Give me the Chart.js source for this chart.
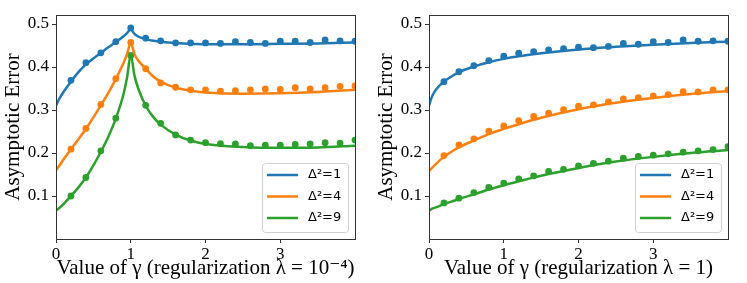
<!DOCTYPE html>
<html>
<head>
<meta charset="utf-8">
<script src="https://cdn.jsdelivr.net/npm/chart.js@4.4.1/dist/chart.umd.min.js"></script>
<style>
  body { margin: 0; background: #fff; }
  canvas { position: absolute; top: 0; }
  #leftChart { left: 0; }
  #rightChart { left: 373px; }
</style>
</head>
<body>
<canvas id="leftChart" width="373" height="283"></canvas>
<canvas id="rightChart" width="374" height="283"></canvas>
<script>
// Series labels and axis ticks
const seriesLabels = ['Δ²=1', 'Δ²=4', 'Δ²=9'];
const seriesColors = ['#1f77b4', '#ff7f0e', '#2ca02c'];
const xTicks = [0, 1, 2, 3];
const yTicks = [0.1, 0.2, 0.3, 0.4, 0.5];

// Simulation points (dots), same gamma grid in both panels
const dotGamma = [0.2, 0.4, 0.6, 0.8, 1.0, 1.2, 1.4, 1.6, 1.8, 2.0, 2.2, 2.4, 2.6, 2.8, 3.0, 3.2, 3.4, 3.6, 3.8, 4.0];

// Left panel (lambda = 1e-4): theory curves
const curveGammaLeft = [0, 0.05, 0.1, 0.2, 0.3, 0.4, 0.5, 0.6, 0.7, 0.8, 0.9, 0.95, 1.0, 1.05, 1.1, 1.2, 1.3, 1.4, 1.6, 1.8, 2.0, 2.5, 3.0, 3.5, 4.0];
const curveLeft1 = [0.31, 0.328, 0.342, 0.366, 0.388, 0.406, 0.42, 0.433, 0.446, 0.458, 0.471, 0.479, 0.488, 0.477, 0.471, 0.465, 0.461, 0.459, 0.456, 0.454, 0.453, 0.453, 0.454, 0.455, 0.457];
const curveLeft4 = [0.16, 0.172, 0.185, 0.209, 0.232, 0.256, 0.283, 0.311, 0.34, 0.372, 0.408, 0.43, 0.456, 0.43, 0.415, 0.396, 0.378, 0.366, 0.352, 0.345, 0.341, 0.338, 0.339, 0.342, 0.347];
const curveLeft9 = [0.066, 0.073, 0.081, 0.1, 0.12, 0.143, 0.171, 0.203, 0.238, 0.28, 0.335, 0.375, 0.428, 0.38, 0.35, 0.31, 0.284, 0.266, 0.243, 0.229, 0.221, 0.214, 0.212, 0.213, 0.217];
// Left panel: simulation dots
const dotsLeft1 = [0.369, 0.41, 0.433, 0.459, 0.491, 0.467, 0.461, 0.456, 0.456, 0.456, 0.455, 0.459, 0.457, 0.455, 0.46, 0.46, 0.457, 0.463, 0.461, 0.46];
const dotsLeft4 = [0.209, 0.257, 0.313, 0.373, 0.457, 0.396, 0.363, 0.353, 0.347, 0.347, 0.344, 0.345, 0.347, 0.349, 0.348, 0.352, 0.349, 0.352, 0.355, 0.356];
const dotsLeft9 = [0.1, 0.143, 0.205, 0.281, 0.427, 0.311, 0.269, 0.242, 0.23, 0.224, 0.222, 0.221, 0.217, 0.218, 0.218, 0.22, 0.221, 0.224, 0.223, 0.23];

// Right panel (lambda = 1): theory curves
const curveGammaRight = [0, 0.02, 0.05, 0.1, 0.2, 0.3, 0.4, 0.6, 0.8, 1.0, 1.2, 1.5, 2.0, 2.5, 3.0, 3.5, 4.0];
const curveRight1 = [0.31, 0.322, 0.335, 0.349, 0.366, 0.378, 0.388, 0.401, 0.411, 0.419, 0.425, 0.432, 0.441, 0.447, 0.452, 0.456, 0.459];
const curveRight4 = [0.158, 0.162, 0.167, 0.176, 0.191, 0.203, 0.213, 0.229, 0.244, 0.256, 0.267, 0.282, 0.302, 0.317, 0.328, 0.337, 0.344];
const curveRight9 = [0.066, 0.068, 0.071, 0.074, 0.081, 0.087, 0.093, 0.104, 0.115, 0.125, 0.134, 0.147, 0.165, 0.18, 0.191, 0.2, 0.207];
// Right panel: simulation dots
const dotsRight1 = [0.366, 0.389, 0.403, 0.415, 0.425, 0.432, 0.436, 0.44, 0.443, 0.446, 0.445, 0.448, 0.455, 0.453, 0.459, 0.457, 0.463, 0.46, 0.461, 0.46];
const dotsRight4 = [0.194, 0.219, 0.233, 0.251, 0.263, 0.275, 0.285, 0.293, 0.301, 0.309, 0.312, 0.319, 0.326, 0.329, 0.333, 0.336, 0.343, 0.342, 0.347, 0.347];
const dotsRight9 = [0.084, 0.095, 0.108, 0.12, 0.13, 0.14, 0.147, 0.157, 0.162, 0.17, 0.176, 0.181, 0.188, 0.192, 0.195, 0.198, 0.202, 0.205, 0.208, 0.215];

const serif = "'Liberation Serif', 'DejaVu Serif', serif";

// draws the four spines round the plot area
const framePlugin = {
    id: 'frame',
    afterDraw(chart) {
        const { ctx, chartArea: a } = chart;
        ctx.save();
        ctx.strokeStyle = '#333';
        ctx.lineWidth = 1;
        ctx.strokeRect(Math.round(a.left) + 0.5, Math.round(a.top) + 0.5,
            Math.round(a.right - a.left), Math.round(a.bottom - a.top));
        ctx.restore();
    }
};

// matplotlib-like legend in the lower right corner
const insideLegend = {
    id: 'insideLegend',
    afterDraw(chart) {
        const { ctx, chartArea: a } = chart;
        const w = 86, h = 69;
        const x = a.right - 7 - w, y = a.bottom - 7 - h;
        ctx.save();
        ctx.beginPath();
        ctx.roundRect(x + 0.5, y + 0.5, w, h, 3);
        ctx.fillStyle = 'rgba(255,255,255,0.8)';
        ctx.fill();
        ctx.strokeStyle = '#d0d0d0';
        ctx.lineWidth = 1;
        ctx.stroke();
        ctx.font = "13px 'DejaVu Sans', sans-serif";
        ctx.textBaseline = 'middle';
        seriesLabels.forEach((label, i) => {
            const cy = y + 12 + i * 21.5;
            ctx.strokeStyle = seriesColors[i];
            ctx.lineWidth = 2.5;
            ctx.beginPath();
            ctx.moveTo(x + 5, cy);
            ctx.lineTo(x + 36, cy);
            ctx.stroke();
            ctx.fillStyle = '#000';
            ctx.fillText(label, x + 46, cy);
        });
        ctx.restore();
    }
};

function toPoints(xs, ys) {
    return xs.map((x, i) => ({ x: x, y: ys[i] }));
}

function makeChart(id, curveGamma, curves, dots, xTitle) {
    const datasets = [];
    curves.forEach((c, i) => {
        datasets.push({
            type: 'line',
            label: seriesLabels[i],
            data: toPoints(curveGamma, c),
            borderColor: seriesColors[i],
            borderWidth: 2.5,
            pointRadius: 0,
            cubicInterpolationMode: 'monotone',
            clip: 0
        });
    });
    dots.forEach((d, i) => {
        datasets.push({
            type: 'scatter',
            label: seriesLabels[i] + ' sim',
            data: toPoints(dotGamma, d),
            backgroundColor: seriesColors[i],
            borderColor: seriesColors[i],
            pointRadius: 3.4,
            borderWidth: 0,
            clip: 0
        });
    });

    return new Chart(document.getElementById(id), {
        type: 'line',
        data: { datasets: datasets },
        options: {
            responsive: false,
            animation: false,
            layout: { padding: { top: 15, right: id === 'leftChart' ? 18 : 19, left: 0, bottom: 0 } },
            plugins: {
                legend: { display: false },
                tooltip: { enabled: false }
            },
            scales: {
                x: {
                    type: 'linear',
                    min: 0,
                    max: 4,
                    afterBuildTicks: s => { s.ticks = xTicks.map(v => ({ value: v })); },
                    afterFit: s => { s.height = 44; },
                    border: { display: false },
                    grid: { drawOnChartArea: false, drawTicks: true, tickLength: 4, color: '#333' },
                    ticks: { color: '#000', padding: 1, maxRotation: 0, font: { family: serif, size: 17 } },
                    title: { display: true, text: xTitle, color: '#000', padding: { top: 0, bottom: 2 }, font: { family: serif, size: 21 } }
                },
                y: {
                    min: 0,
                    max: 0.521,
                    afterBuildTicks: s => { s.ticks = yTicks.map(v => ({ value: v })); },
                    afterFit: s => { s.width = 56; },
                    border: { display: false },
                    grid: { drawOnChartArea: false, drawTicks: true, tickLength: 4, color: '#333' },
                    ticks: { color: '#000', padding: 3, callback: v => v.toFixed(1), font: { family: serif, size: 17 } },
                    title: { display: true, text: 'Asymptotic Error', color: '#000', padding: { top: 1, bottom: 0 }, font: { family: serif, size: 21 } }
                }
            }
        },
        plugins: [framePlugin, insideLegend]
    });
}

makeChart('leftChart', curveGammaLeft, [curveLeft1, curveLeft4, curveLeft9],
    [dotsLeft1, dotsLeft4, dotsLeft9], 'Value of γ (regularization λ = 10⁻⁴)');
makeChart('rightChart', curveGammaRight, [curveRight1, curveRight4, curveRight9],
    [dotsRight1, dotsRight4, dotsRight9], 'Value of γ (regularization λ = 1)');
</script>
</body>
</html>
